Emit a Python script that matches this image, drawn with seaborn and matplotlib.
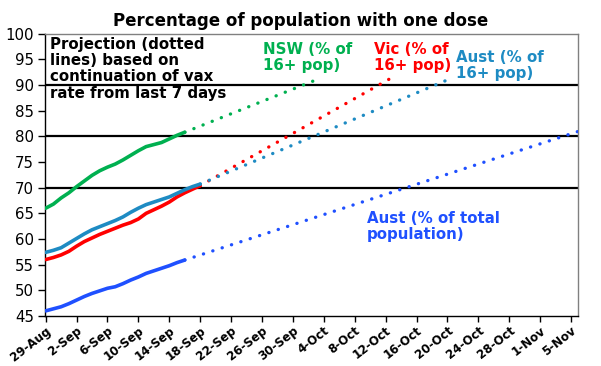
import matplotlib.pyplot as plt
import numpy as np
import pandas as pd
import seaborn as sns

sns.set_theme(style="white")
plt.rcParams["font.family"] = ["DejaVu Sans"]

# Datos reales (un valor por dia desde el 29-Aug-2021)
start = pd.Timestamp("2021-08-29")
nsw = [66.0, 66.8, 68.0, 69.0, 70.2, 71.3, 72.4, 73.3, 74.0, 74.6, 75.4, 76.3,
       77.2, 78.0, 78.4, 78.8, 79.5, 80.2, 80.8]
vic = [56.0, 56.4, 56.9, 57.6, 58.6, 59.5, 60.2, 60.9, 61.5, 62.1, 62.7, 63.2,
       63.9, 65.0, 65.7, 66.4, 67.2, 68.2, 69.0, 69.7, 70.4]
aus16 = [57.4, 57.8, 58.3, 59.2, 60.1, 61.0, 61.8, 62.4, 63.0, 63.6, 64.3, 65.2,
         66.0, 66.7, 67.2, 67.7, 68.2, 68.9, 69.6, 70.2, 70.7]
aus_total = [46.0, 46.4, 46.8, 47.4, 48.1, 48.8, 49.4, 49.9, 50.4, 50.7, 51.3,
             52.0, 52.6, 53.3, 53.8, 54.3, 54.8, 55.4, 55.9]

# Proyeccion: fecha y valor final de la linea punteada
proj_end_dates = {"nsw": "2021-10-03", "vic": "2021-10-13",
                  "aus16": "2021-10-20", "aus_total": "2021-11-06"}
proj_end_values = {"nsw": 91.0, "vic": 91.6, "aus16": 91.0, "aus_total": 81.0}

series = {"nsw": nsw, "vic": vic, "aus16": aus16, "aus_total": aus_total}
colors = {"nsw": "#00B050", "vic": "#FF0000", "aus16": "#1E8BC3",
          "aus_total": "#1F50FF"}

tick_dates = pd.date_range("2021-08-29", "2021-11-05", freq="4D")
tick_labels = [f"{d.day}-{d:%b}" for d in tick_dates]
y_ticks = list(range(45, 101, 5))
ref_lines = [70, 80, 90]

fig = plt.figure(figsize=(6.01, 3.66), dpi=100)
ax = fig.add_axes([0.0749, 0.1366, 0.8868, 0.7713])

for y in ref_lines:
    ax.axhline(y, color="black", lw=1.6, zorder=1)

for key, vals in series.items():
    df = pd.DataFrame({"date": pd.date_range(start, periods=len(vals), freq="D"),
                       "value": vals})
    sns.lineplot(data=df, x="date", y="value", color=colors[key], lw=2.6,
                 ax=ax, zorder=3)
    proj = pd.DataFrame({"date": [df["date"].iloc[-1],
                                  pd.Timestamp(proj_end_dates[key])],
                         "value": [vals[-1], proj_end_values[key]]})
    sns.lineplot(data=proj, x="date", y="value", color=colors[key], lw=2.4,
                 ax=ax, zorder=3, linestyle=(0, (0.05, 2.9)),
                 dash_capstyle="round")

ax.set_xlim(start - pd.Timedelta(hours=2), start + pd.Timedelta(days=68.9))
ax.set_ylim(45, 100)
ax.set_yticks(y_ticks)
ax.set_xticks(tick_dates)
ax.set_xticklabels(tick_labels, rotation=38, ha="right", va="top",
                   rotation_mode="anchor", fontweight="bold", fontsize=8.6)
ax.tick_params(axis="y", labelsize=10.8, length=5, width=1, direction="out",
               left=True, colors="black", pad=3)
ax.tick_params(axis="x", length=4, width=1, direction="out", bottom=True,
               colors="black", pad=2)
ax.set_xlabel("")
ax.set_ylabel("")
ax.grid(False)
for side in ["left", "bottom"]:
    ax.spines[side].set_color("black")
    ax.spines[side].set_linewidth(1)
for side in ["top", "right"]:
    ax.spines[side].set_color("#808080")
    ax.spines[side].set_linewidth(1)


def px_text(x, y, s, color, size=10.8, **kw):
    fig.text(x / 601, 1 - y / 366, s, color=color, fontsize=size,
             fontweight="bold", va="top", ha="left", linespacing=1.1, **kw)


fig.text(0.5, 1 - 12 / 366, "Percentage of population with one dose",
         ha="center", va="top", fontsize=12, fontweight="bold", color="black")
px_text(50, 37, "Projection (dotted\nlines) based on\ncontinuation of vax\nrate from last 7 days", "black")
px_text(263, 42, "NSW (% of\n16+ pop)", colors["nsw"])
px_text(374, 42, "Vic (% of\n16+ pop)", colors["vic"])
px_text(456, 50, "Aust (% of\n16+ pop)", colors["aus16"])
px_text(367, 211, "Aust (% of total\npopulation)", colors["aus_total"])

fig.savefig("out.png", dpi=100)
